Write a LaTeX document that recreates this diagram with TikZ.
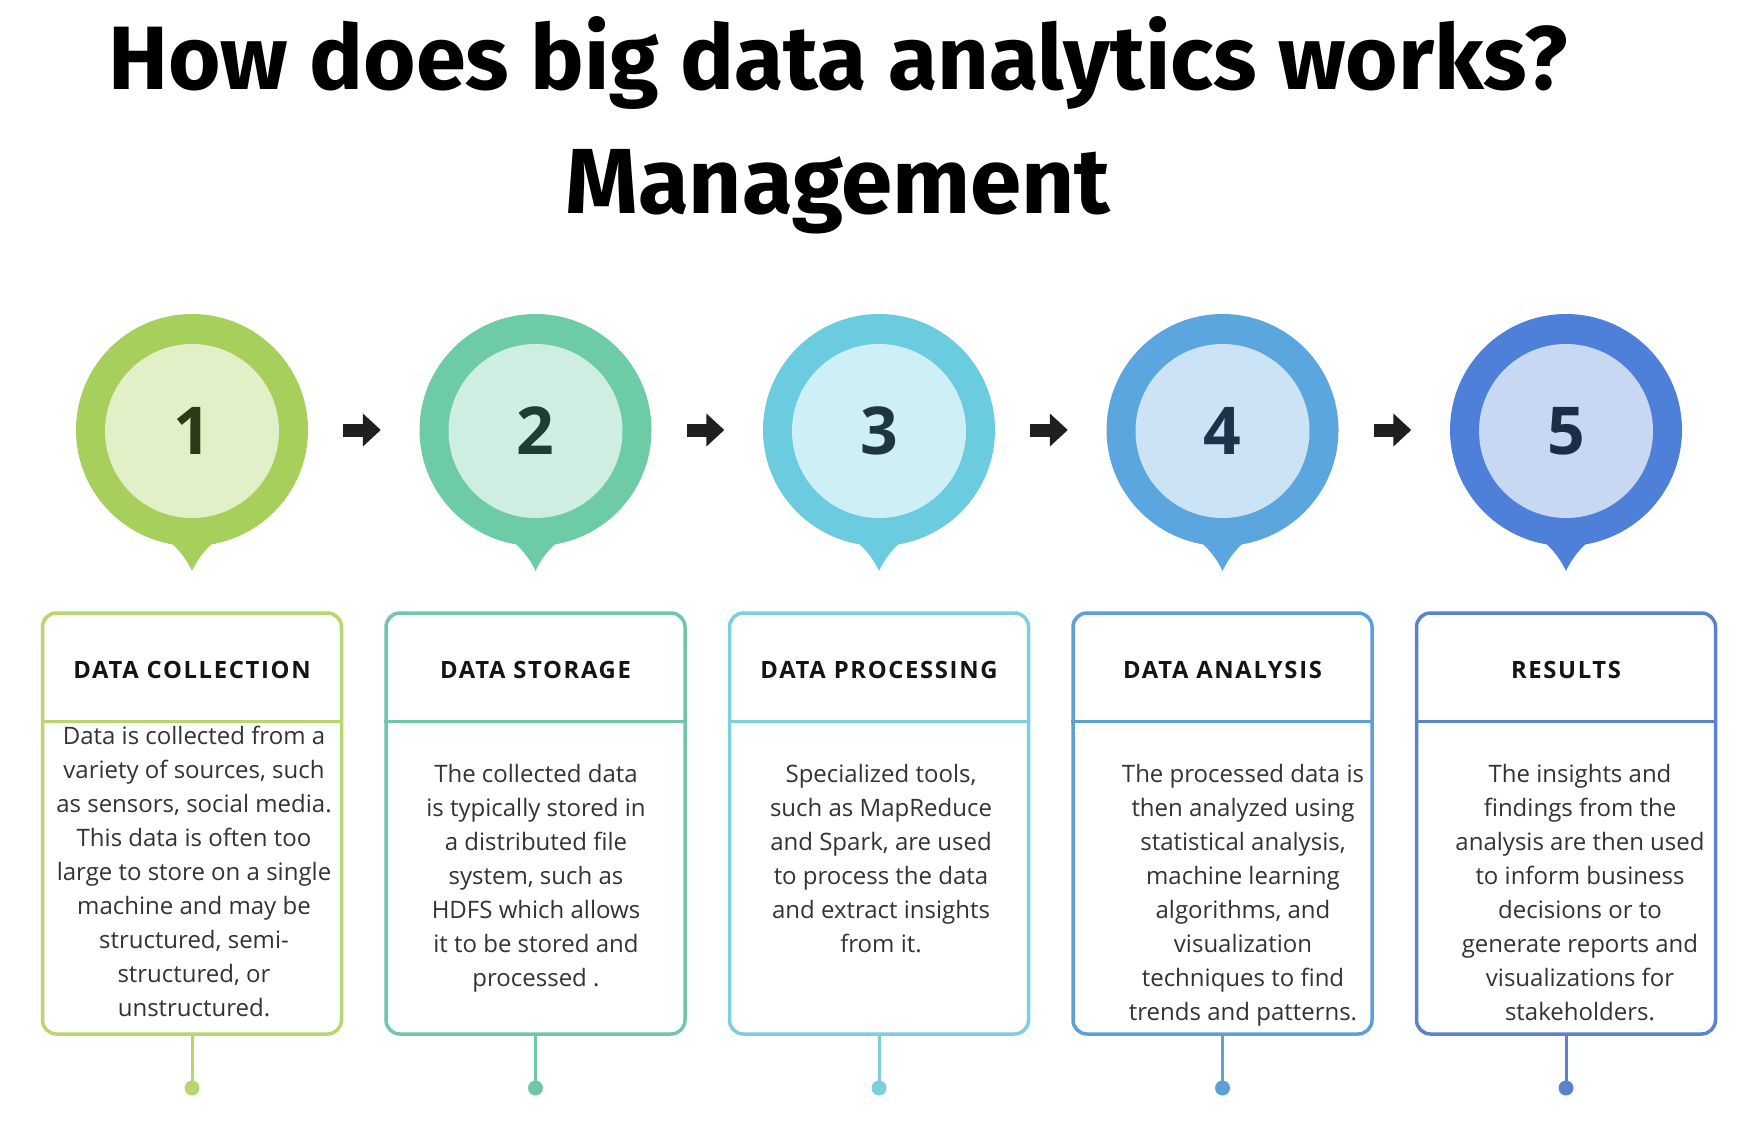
\documentclass[tikz,border=0pt]{standalone}
\usepackage{fontspec}
\setmainfont{Open Sans}
\newfontfamily\titlefont{Fira Sans}
\newfontfamily\headfont[LetterSpace=7]{Open Sans}
\usetikzlibrary{calc,arrows.meta}
\definecolor{oA}{HTML}{A7CF5B}\definecolor{iA}{HTML}{E2F0C8}\definecolor{bA}{HTML}{B8D66E}\definecolor{nA}{HTML}{2B3A17}
\definecolor{oB}{HTML}{6DCBA6}\definecolor{iB}{HTML}{CDEEE1}\definecolor{bB}{HTML}{6FC6A9}\definecolor{nB}{HTML}{1F3D33}
\definecolor{oC}{HTML}{6BCCE0}\definecolor{iC}{HTML}{CDEFF5}\definecolor{bC}{HTML}{7DCFDB}\definecolor{nC}{HTML}{1E3640}
\definecolor{oD}{HTML}{5CA6E0}\definecolor{iD}{HTML}{CCE2F5}\definecolor{bD}{HTML}{5E9FD6}\definecolor{nD}{HTML}{1E3347}
\definecolor{oE}{HTML}{4F80D9}\definecolor{iE}{HTML}{C8D7F2}\definecolor{bE}{HTML}{5B82CC}\definecolor{nE}{HTML}{1D2B45}
\definecolor{bodytxt}{HTML}{333333}
\tikzset{
  outerc/.style={circle, minimum size=232pt, inner sep=0pt},
  innerc/.style={circle, minimum size=174pt, inner sep=0pt, font=\fontsize{66}{66}\selectfont\bfseries},
  stepbox/.style={draw, rounded corners=14pt, line width=3.5pt, minimum width=299pt, minimum height=421pt, inner sep=0pt},
  headtxt/.style={anchor=base, inner sep=0pt, text=black!92, font=\headfont\bfseries\fontsize{23.8}{28}\selectfont},
  bodynode/.style={anchor=north, inner sep=0pt, align=center, text=bodytxt, font=\fontsize{24}{34.1}\selectfont},
  flowarrow/.style={line width=13pt, black!88, -{Triangle[length=18pt,width=32pt]}, shorten <=35pt, shorten >=38.5pt},
  stemline/.style={line width=3pt},
  enddot/.style={circle, minimum size=15pt, inner sep=0pt},
  titletxt/.style={anchor=base, inner sep=0pt, font=\titlefont\bfseries}
}
\begin{document}
\begin{tikzpicture}[x=1pt,y=-1pt]
\fill[white] (0,0) rectangle (1744,1126);
\useasboundingbox (0,0) rectangle (1744,1126);
% title
\node[titletxt, font=\titlefont\bfseries\fontsize{90}{110}\selectfont] (t1) at (838,90) {How does big data analytics works?};
\node[titletxt, font=\titlefont\bfseries\fontsize{92.5}{110}\selectfont] (t2) at (838,213) {Management};
% steps
\foreach \i/\x/\L in {1/192/A,2/535.5/B,3/879/C,4/1222.5/D,5/1566/E}{
  \fill[o\L] (\x-24,540) .. controls (\x-12,550) and (\x-4,562) .. (\x,571)
             .. controls (\x+4,562) and (\x+12,550) .. (\x+24,540) -- cycle;
  \node[outerc, fill=o\L] (c\i) at (\x,430) {};
  \node[innerc, fill=i\L, text=n\L] (n\i) at (\x,431) {\i};
  \node[stepbox, draw=b\L] (b\i) at (\x,823.5) {};
  \draw[b\L, line width=3.5pt] ($(b\i.north west)+(0,110)$) coordinate (dl\i) -- ($(b\i.north east)+(0,110)$) coordinate (dr\i);
  \node[enddot, fill=b\L] (d\i) at (\x,1088) {};
  \draw[b\L, stemline] (b\i.south) -- (d\i.center);
}
\node[headtxt] (h1) at (192,678) {DATA COLLECTION};
\node[headtxt] (h2) at (535.5,678) {DATA STORAGE};
\node[headtxt] (h3) at (879,678) {DATA PROCESSING};
\node[headtxt] (h4) at (1222.5,678) {DATA ANALYSIS};
\node[headtxt] (h5) at (1566,678) {RESULTS};
\node[bodynode] (x1) at (194,720) {\strut Data is collected from a\\variety of sources, such\\as sensors, social media.\\This data is often too\\large to store on a single\\machine and may be\\structured, semi-\\structured, or\\unstructured.};
\node[bodynode] (x2) at (536,758) {\strut The collected data\\is typically stored in\\a distributed file\\system, such as\\HDFS which allows\\it to be stored and\\processed .};
\node[bodynode] (x3) at (881,758) {\strut Specialized tools,\\such as MapReduce\\and Spark, are used\\to process the data\\and extract insights\\from it.};
\node[bodynode] (x4) at (1243,758) {\strut The processed data is\\then analyzed using\\statistical analysis,\\machine learning\\algorithms, and\\visualization\\techniques to find\\trends and patterns.};
\node[bodynode] (x5) at (1580,758) {\strut The insights and\\findings from the\\analysis are then used\\to inform business\\decisions or to\\generate reports and\\visualizations for\\stakeholders.};
% arrows
\foreach \a/\b in {1/2,2/3,3/4,4/5}{
  \draw[flowarrow] (c\a.east) -- (c\b.west);
}
\end{tikzpicture}
\end{document}
